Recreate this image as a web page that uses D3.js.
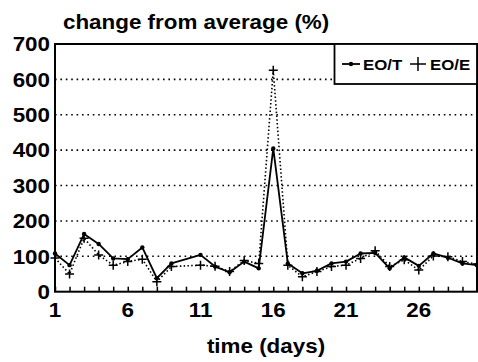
<!DOCTYPE html>
<html>
<head>
<meta charset="utf-8">
<script src="https://cdn.jsdelivr.net/npm/d3@7"></script>
<style>
  html, body { margin: 0; padding: 0; background: #fff; }
  svg { display: block; }
  text { font-family: "Liberation Sans", Arial, sans-serif; font-weight: bold; fill: #000; }
</style>
</head>
<body>
<svg id="chart" width="478" height="362"></svg>
<script>
// ---- data ----
const days = [1,2,3,4,5,6,7,8,9,11,12,13,14,15,16,17,18,19,20,21,22,23,24,25,26,27,28,29,30];
const eoT  = [108,75,163,135,94,92,125,38,80,104,71,55,85,66,405,80,52,59,80,85,108,110,66,97,73,108,96,80,75];
const eoE  = [95,50,151,104,75,85,92,28,71,75,72,57,88,80,626,75,42,57,71,75,94,116,71,90,61,101,99,85,78];
const yTicks = [0,100,200,300,400,500,600,700];
const gridValues = [100,200,300,400,500,600];
const xTickDays = d3.range(1, 31);
const xLabelDays = [1,6,11,16,21,26];
const seriesNames = ["EO/T", "EO/E"];
const titleText = "change from average (%)";
const xTitle = "time (days)";

// ---- layout ----
const svg = d3.select("#chart");
const pLeft = 55, pRight = 477, pTop = 44, pBottom = 291.7;
const x = d3.scaleLinear().domain([1, 30]).range([pLeft, pRight]);
const y = d3.scaleLinear().domain([0, 700]).range([pBottom, pTop]);
const SX = 1.12; // horizontal stretch of the lettering

function stretched(sel, tx, ty) {
  return sel.attr("transform", (d, i) => {
    const X = typeof tx === "function" ? tx(d, i) : tx;
    const Y = typeof ty === "function" ? ty(d, i) : ty;
    return `translate(${X},${Y}) scale(${SX},1)`;
  });
}

// gridlines
svg.append("g").selectAll("line").data(gridValues).join("line")
  .attr("x1", pLeft).attr("x2", pRight)
  .attr("y1", d => y(d)).attr("y2", d => y(d))
  .attr("stroke", "#000").attr("stroke-width", 1.6)
  .attr("stroke-dasharray", "1.6,3.8");

// x axis ticks (inward)
const xAxis = d3.axisBottom(x).tickValues(xTickDays).tickSize(-5).tickFormat("");
const gx = svg.append("g").attr("transform", `translate(0,${pBottom})`).call(xAxis);
gx.select(".domain").remove();
gx.selectAll("line").attr("stroke", "#000").attr("stroke-width", 1.5);

// x labels
stretched(svg.append("g").selectAll("text").data(xLabelDays).join("text"), d => x(d), 317)
  .attr("text-anchor", "middle")
  .attr("font-size", 20)
  .text(d => d);

// y labels
stretched(svg.append("g").selectAll("text").data(yTicks).join("text"), 50, d => y(d) + 7.3)
  .attr("text-anchor", "end")
  .attr("font-size", 20)
  .text(d => d);

// EO/E dotted line with crosses
const line = d3.line().x((d, i) => x(days[i])).y(d => y(d));
svg.append("path").datum(eoE)
  .attr("d", line).attr("fill", "none")
  .attr("stroke", "#000").attr("stroke-width", 1.6)
  .attr("stroke-dasharray", "1.5,2.3");

const cs = 4.5;
const crosses = svg.append("g");
eoE.forEach((v, i) => {
  const cx = x(days[i]), cy = y(v);
  crosses.append("path")
    .attr("d", `M${cx - cs},${cy}H${cx + cs}M${cx},${cy - cs}V${cy + cs}`)
    .attr("stroke", "#000").attr("stroke-width", 1.5).attr("fill", "none");
});

// EO/T solid line with dots
svg.append("path").datum(eoT)
  .attr("d", line).attr("fill", "none")
  .attr("stroke", "#000").attr("stroke-width", 1.8)
  .attr("stroke-linejoin", "round");
svg.append("g").selectAll("circle").data(eoT).join("circle")
  .attr("cx", (d, i) => x(days[i])).attr("cy", d => y(d))
  .attr("r", 2.2).attr("fill", "#000");

// frame
svg.append("rect")
  .attr("x", pLeft).attr("y", pTop)
  .attr("width", pRight - pLeft).attr("height", pBottom - pTop)
  .attr("fill", "none").attr("stroke", "#000").attr("stroke-width", 2);

// legend
const lg = svg.append("g");
lg.append("rect").attr("x", 334.5).attr("y", pTop).attr("width", pRight - 334.5).attr("height", 40)
  .attr("fill", "#fff").attr("stroke", "#000").attr("stroke-width", 1.8);
const ly = 64;
lg.append("line").attr("x1", 342).attr("x2", 360).attr("y1", ly).attr("y2", ly)
  .attr("stroke", "#000").attr("stroke-width", 1.8);
lg.append("circle").attr("cx", 351).attr("cy", ly).attr("r", 2.2).attr("fill", "#000");
stretched(lg.append("text"), 363, ly + 6).attr("font-size", 15).text(seriesNames[0]);
lg.append("path").attr("d", `M${410},${ly}H${426}M${418},${ly - 7}V${ly + 7}`)
  .attr("stroke", "#000").attr("stroke-width", 1.5);
stretched(lg.append("text"), 430, ly + 6).attr("font-size", 15).text(seriesNames[1]);

// titles
stretched(svg.append("text"), 63, 29).attr("font-size", 20).text(titleText);
stretched(svg.append("text"), 266, 353).attr("text-anchor", "middle").attr("font-size", 20).text(xTitle);
</script>
</body>
</html>
